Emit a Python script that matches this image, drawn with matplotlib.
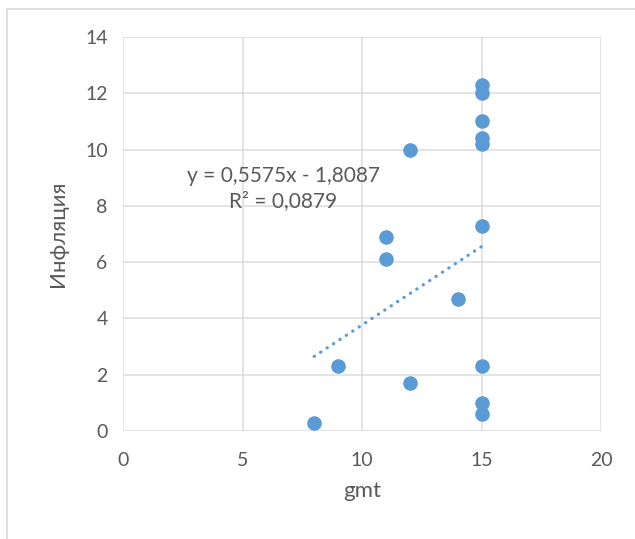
import matplotlib
matplotlib.use("Agg")
import matplotlib.pyplot as plt
from matplotlib.patches import Rectangle

gmt = [8, 9, 11, 11, 12, 12, 14, 15, 15, 15, 15, 15, 15, 15, 15, 15]
inflation = [0.3, 2.3, 6.9, 6.1, 10.0, 1.7, 4.7, 12.3, 12.0, 11.0, 10.4, 10.2, 7.3, 2.3, 1.0, 0.6]
trend_coef = [0.5575, -1.8087]
r_squared = "0,0879"
x_ticks = [0, 5, 10, 15, 20]
y_ticks = [0, 2, 4, 6, 8, 10, 12, 14]

plt.rcParams['font.family'] = ['Lato', 'DejaVu Sans']
W, H = 635, 539
fig = plt.figure(figsize=(W / 100, H / 100), dpi=100)
fig.patch.set_facecolor('white')
fig.patches.append(Rectangle((7 / W, -0.05), 1.2, 1 - 9 / H + 0.05, transform=fig.transFigure,
                             fill=False, edgecolor='#D9D9D9', linewidth=1.2))

ax = fig.add_axes([123 / W, 1 - 431 / H, (601 - 123) / W, (431 - 37) / H])
ax.set_xlim(0, 20)
ax.set_ylim(0, 14)
ax.set_xticks(x_ticks)
ax.set_yticks(y_ticks)
ax.grid(True, color='#DDDDDD', linewidth=1.1)
ax.set_axisbelow(True)
for s in ax.spines.values():
    s.set_visible(False)
ax.tick_params(axis='y', length=0, labelsize=14, colors='#595959', pad=11)
ax.tick_params(axis='x', length=0, labelsize=14, colors='#595959', pad=15)

ax.scatter(gmt, inflation, s=110, color='#5B9BD5', zorder=3, linewidths=0)

xs = [min(gmt), max(gmt)]
ys = [trend_coef[0] * x + trend_coef[1] for x in xs]
ax.plot(xs, ys, color='#5B9BD5', linewidth=2.3, linestyle=(0, (0.1, 2.3)),
        dash_capstyle='round', zorder=2)

ax.text(6.7, 9.06, "y = 0,5575x - 1,8087", ha='center', va='center', fontsize=15, color='#595959')
ax.text(6.7, 8.17, "R² = " + r_squared, ha='center', va='center', fontsize=15, color='#595959')

ax.set_xlabel("gmt", fontsize=16, color='#595959', labelpad=9)
ax.set_ylabel("Инфляция", fontsize=16, color='#595959', labelpad=12)

fig.savefig("out.png", dpi=100)
